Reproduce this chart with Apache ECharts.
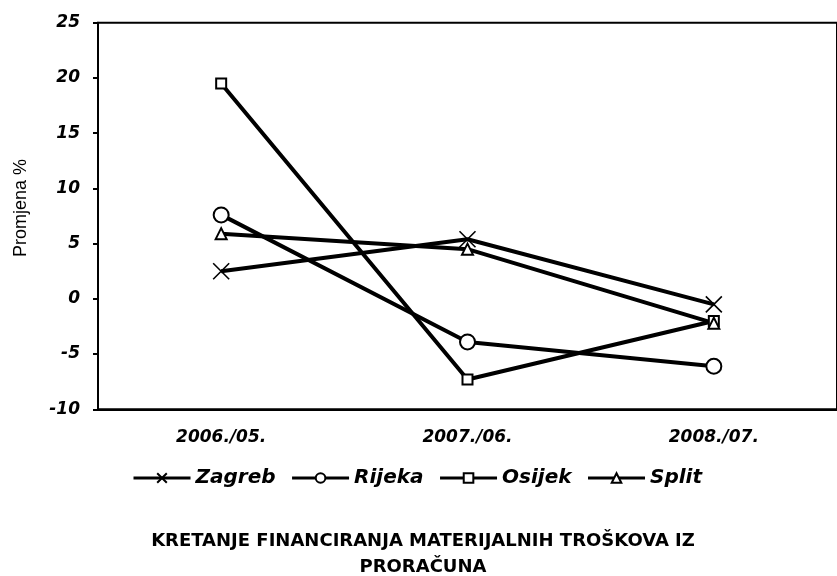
<!DOCTYPE html>
<html>
<head>
<meta charset="utf-8">
<script src="https://cdn.jsdelivr.net/npm/echarts@6/dist/echarts.min.js"></script>
<style>
  html, body { margin: 0; padding: 0; background: #fff; }
  #main { width: 837px; height: 576px; }
</style>
</head>
<body>
<div id="main"></div>
<script>
const categories = ["2006./05.", "2007./06.", "2008./07."];
const zagreb = [2.5, 5.4, -0.5];
const rijeka = [7.6, -3.9, -6.1];
const osijek = [19.5, -7.3, -2.0];
const split = [5.9, 4.5, -2.2];
const yTicks = [-10, -5, 0, 5, 10, 15, 20, 25];

const wide = "DejaVu Sans";
const arial = "Liberation Sans";
const crossPath = "path://M0,0L10,10M10,0L0,10";

function lineSeries(name, data, symbol, size) {
  return {
    name: name,
    type: "line",
    data: data,
    symbol: symbol,
    symbolSize: size,
    showAllSymbol: true,
    lineStyle: { color: "#000", width: 4 },
    itemStyle: { color: "#000", borderColor: "#000", borderWidth: 1.6 },
    emphasis: { disabled: true },
    z: 3,
  };
}

const chart = echarts.init(document.getElementById("main"));
chart.setOption({
  animation: false,
  title: {
    text: "KRETANJE FINANCIRANJA MATERIJALNIH TROŠKOVA IZ\nPRORAČUNA",
    left: 418,
    textAlign: "center",
    top: 523,
    textStyle: {
      fontFamily: wide,
      fontWeight: "bold",
      fontSize: 18,
      lineHeight: 26,
      color: "#000",
    },
  },
  legend: {
    top: 468,
    left: 132,
    padding: 0,
    itemWidth: 57,
    itemHeight: 12,
    itemGap: 15,
    lineStyle: { width: 3 },
    textStyle: {
      fontFamily: wide,
      fontWeight: "bold",
      fontStyle: "italic",
      fontSize: 20,
      color: "#000",
    },
    data: ["Zagreb", "Rijeka", "Osijek", "Split"],
  },
  grid: {
    left: 98,
    top: 22.7,
    width: 750,
    height: 386.6,
    show: true,
    borderColor: "#000",
    borderWidth: 2,
    containLabel: false,
  },
  xAxis: {
    type: "category",
    data: categories,
    boundaryGap: true,
    axisLine: { onZero: false, lineStyle: { color: "#000", width: 2 } },
    axisTick: { show: false },
    axisLabel: {
      margin: 20,
      color: "#000",
      fontFamily: wide,
      fontWeight: "bold",
      fontStyle: "italic",
      fontSize: 17,
    },
  },
  yAxis: {
    type: "value",
    min: yTicks[0],
    max: yTicks[yTicks.length - 1],
    interval: 5,
    name: "Promjena %",
    nameLocation: "middle",
    nameGap: 68,
    nameTextStyle: { fontFamily: arial, fontSize: 18, color: "#000", padding: [0, 0, 0, 16] },
    axisLine: { show: true, lineStyle: { color: "#000", width: 2 } },
    axisTick: { show: true, length: 5, lineStyle: { color: "#000", width: 2 } },
    splitLine: { show: false },
    axisLabel: {
      margin: 18,
      color: "#000",
      fontFamily: wide,
      fontWeight: "bold",
      fontStyle: "italic",
      fontSize: 17,
    },
  },
  series: [
    lineSeries("Zagreb", zagreb, crossPath, 16),
    lineSeries("Rijeka", rijeka, "emptyCircle", 15),
    lineSeries("Osijek", osijek, "emptyRect", 10),
    lineSeries("Split", split, "emptyTriangle", 11),
  ],
});
</script>
</body>
</html>
